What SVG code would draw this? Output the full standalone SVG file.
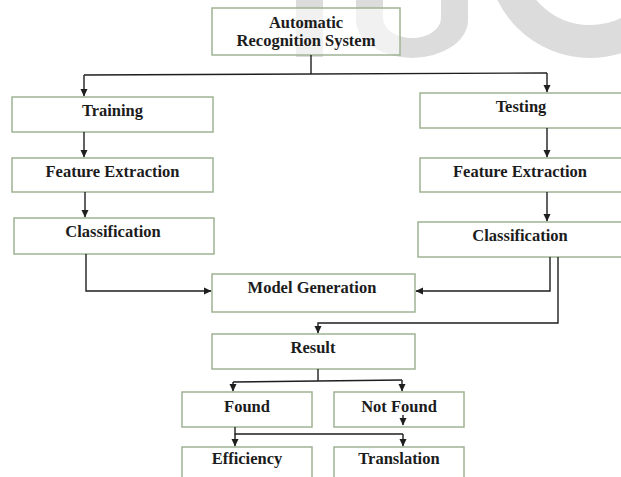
<svg xmlns="http://www.w3.org/2000/svg" width="621" height="477" viewBox="0 0 621 477">
<defs>
<style>
.box{fill:#ffffff;fill-opacity:0.6;stroke:#9fb393;stroke-width:1.5}
.t{font-family:"Liberation Serif","Times New Roman",serif;font-weight:bold;font-size:16.5px;fill:#1c1c1c;text-anchor:middle}
.c{fill:none;stroke:#1e1e1e;stroke-width:1.4}
.a{fill:none;stroke:#1e1e1e;stroke-width:1.4;marker-end:url(#ah)}
.wm{fill:#dcdcdc}
</style>
<marker id="ah" markerUnits="userSpaceOnUse" markerWidth="8" markerHeight="8" refX="7" refY="4" orient="auto">
<path d="M0,0.5 L7.5,4 L0,7.5 Z" fill="#1e1e1e"/>
</marker>
</defs>
<rect width="621" height="477" fill="#ffffff"/>
<g id="watermark">
<rect class="wm" x="296" y="0" width="27" height="57"/>
<path class="wm" d="M356,0 V20 A56,38 0 0 0 468,20 V0 H441 V18 A29,20 0 0 1 383,18 V0 Z"/>
<circle cx="590" cy="-45" r="86.5" fill="none" stroke="#dcdcdc" stroke-width="33"/>
</g>
<g id="auto"><rect class="box" x="212" y="8" width="188" height="47"/><text class="t" x="306" y="28">Automatic</text><text class="t" x="306" y="46">Recognition System</text></g>
<g id="training"><rect class="box" x="12" y="97" width="201" height="35"/><text class="t" x="112.5" y="116">Training</text></g>
<g id="feL"><rect class="box" x="12" y="158" width="201" height="34"/><text class="t" x="112.5" y="177">Feature Extraction</text></g>
<g id="clL"><rect class="box" x="14" y="218" width="200" height="36"/><text class="t" x="113" y="237">Classification</text></g>
<g id="testing"><rect class="box" x="420" y="93" width="203" height="35"/><text class="t" x="521" y="112">Testing</text></g>
<g id="feR"><rect class="box" x="420" y="158" width="203" height="34"/><text class="t" x="520" y="177">Feature Extraction</text></g>
<g id="clR"><rect class="box" x="418" y="222" width="205" height="35"/><text class="t" x="520" y="241">Classification</text></g>
<g id="model"><rect class="box" x="212" y="274" width="203" height="38"/><text class="t" x="312" y="293">Model Generation</text></g>
<g id="result"><rect class="box" x="212" y="334" width="203" height="35"/><text class="t" x="313" y="353">Result</text></g>
<g id="found"><rect class="box" x="182" y="392" width="130" height="35"/><text class="t" x="247" y="412">Found</text></g>
<g id="notfound"><rect class="box" x="334" y="392" width="130" height="35"/><text class="t" x="399" y="412">Not Found</text></g>
<g id="efficiency"><rect class="box" x="182" y="447" width="130" height="32"/><text class="t" x="247" y="464">Efficiency</text></g>
<g id="translation"><rect class="box" x="334" y="447" width="130" height="32"/><text class="t" x="399" y="464">Translation</text></g>
<g id="connectors">
<path class="c" d="M311,55 V74"/>
<path class="c" d="M84,75 L547,73"/>
<path class="a" d="M84,75 V96"/>
<path class="a" d="M547,73 V92"/>
<path class="a" d="M84,132 V157"/>
<path class="a" d="M85,192 V217"/>
<path class="a" d="M547,128 V157"/>
<path class="a" d="M547,192 V221"/>
<path class="a" d="M86,254 V291 H211"/>
<path class="a" d="M550,257 V291 H416"/>
<path class="a" d="M558,257 V323 H318 V333"/>
<path class="c" d="M318,369 V381"/>
<path class="c" d="M233,382 L402,380"/>
<path class="a" d="M233,382 V391"/>
<path class="a" d="M402,380 V391"/>
<path class="a" d="M403,415 V425"/>
<path class="c" d="M235,427 V434 H403"/>
<path class="a" d="M235,434 V446"/>
<path class="a" d="M403,434 V446"/>
</g>
</svg>
